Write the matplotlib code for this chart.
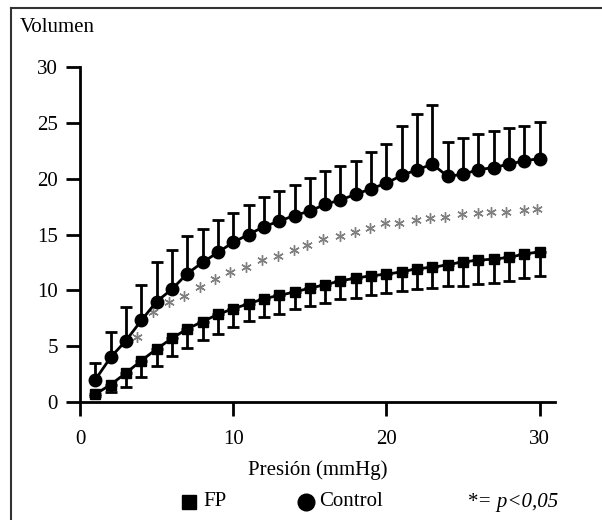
import matplotlib
matplotlib.use('Agg')
import matplotlib.pyplot as plt
from matplotlib.lines import Line2D

plt.rcParams['font.family'] = ['Liberation Serif', 'DejaVu Serif']

# Presión (mmHg)
pressure = list(range(1, 31))

# Control group: mean and upper error (mean + SD)
control = [2.0, 4.0, 5.5, 7.3, 9.0, 10.1, 11.5, 12.5, 13.4, 14.3,
           15.0, 15.7, 16.2, 16.7, 17.1, 17.7, 18.1, 18.6, 19.1, 19.6,
           20.3, 20.8, 21.3, 20.2, 20.4, 20.8, 21.0, 21.3, 21.6, 21.8]
control_top = [3.45, 6.3, 8.5, 10.5, 12.5, 13.6, 14.9, 15.5, 16.3, 16.9,
               17.6, 18.4, 18.9, 19.4, 20.1, 20.65, 21.15, 21.6, 22.4, 23.1,
               24.75, 25.8, 26.6, 23.3, 23.6, 24.0, 24.25, 24.5, 24.75, 25.1]

# FP group: mean and lower error (mean - SD)
fp = [0.7, 1.55, 2.6, 3.7, 4.75, 5.7, 6.55, 7.2, 7.85, 8.35,
      8.8, 9.25, 9.55, 9.85, 10.2, 10.5, 10.85, 11.1, 11.3, 11.45,
      11.65, 11.95, 12.05, 12.3, 12.55, 12.7, 12.8, 12.95, 13.25, 13.45]
fp_bottom = [0.5, 0.9, 1.35, 2.25, 3.25, 4.1, 4.85, 5.55, 6.05, 6.7,
             7.25, 7.65, 7.9, 8.35, 8.6, 8.9, 9.2, 9.3, 9.6, 9.75,
             9.95, 10.1, 10.2, 10.4, 10.4, 10.55, 10.7, 10.85, 11.1, 11.3]

# significance markers (p<0,05)
star_x = [3.75, 4.75, 5.8, 6.8, 7.85, 8.8, 9.8, 10.85, 11.85, 12.9,
          13.95, 14.8, 15.85, 17.0, 17.95, 18.9, 19.9, 20.85, 21.9, 22.85,
          23.8, 24.9, 26.0, 26.85, 27.8, 29.0, 29.85]
star_y = [5.8, 8.1, 9.0, 9.45, 10.3, 11.0, 11.6, 12.05, 12.7, 13.1,
          13.6, 14.1, 14.6, 14.9, 15.2, 15.55, 16.0, 16.05, 16.3, 16.5,
          16.6, 16.85, 16.95, 17.05, 17.05, 17.15, 17.3]

fig = plt.figure(figsize=(6.02, 5.20), dpi=100)
ax = fig.add_axes([80 / 602, 118 / 520, 475 / 602, 335 / 520])

err_up = [t - m for t, m in zip(control_top, control)]
err_dn = [m - b for m, b in zip(fp, fp_bottom)]

ax.errorbar(pressure, control, yerr=[[0] * len(control), err_up],
            fmt='o-', color='black', ms=9, lw=2, elinewidth=2,
            capsize=4, capthick=2, zorder=3)
ax.errorbar(pressure, fp, yerr=[err_dn, [0] * len(fp)],
            fmt='s-', color='black', ms=7.5, lw=2, elinewidth=2,
            capsize=4, capthick=2, zorder=3)
ax.plot(star_x, star_y, ls='none', marker=(6, 2, 0), ms=7.5,
        mew=1.0, color='#808080', zorder=2)

ax.set_xlim(0, 31)
ax.set_ylim(0, 30)
ax.set_xticks([0, 10, 20, 30])
ax.set_yticks([0, 5, 10, 15, 20, 25, 30])
for s in ('top', 'right'):
    ax.spines[s].set_visible(False)
for s in ('left', 'bottom'):
    ax.spines[s].set_linewidth(2)
ax.tick_params(direction='out', length=10, width=2, labelsize=15)
ax.tick_params(axis='x', pad=10)
ax.tick_params(axis='y', pad=6)
ax.set_xlabel('Presión (mmHg)', fontsize=15, labelpad=8)

fig.text(20 / 602, 1 - 28 / 520, 'Volumen', fontsize=15, va='center')

# figure frame (top and left)
fig.add_artist(Line2D([11 / 602, 1], [1 - 8 / 520, 1 - 8 / 520],
                      transform=fig.transFigure, color='#333333', lw=1.5))
fig.add_artist(Line2D([11 / 602, 11 / 602], [0, 1 - 8 / 520],
                      transform=fig.transFigure, color='#333333', lw=1.5))

# legend
ly = 1 - 502 / 520
fig.add_artist(Line2D([189 / 602], [ly], marker='s', ms=10.5, color='black',
                      transform=fig.transFigure))
fig.text(203 / 602, ly, 'FP', fontsize=15, va='center')
fig.add_artist(Line2D([306 / 602], [ly], marker='o', ms=12, color='black',
                      transform=fig.transFigure))
fig.text(319 / 602, ly, 'Control', fontsize=15, va='center')
fig.text(467 / 602, ly, '*= p<0,05', fontsize=15, va='center', style='italic')

fig.savefig('out.png', dpi=100)
